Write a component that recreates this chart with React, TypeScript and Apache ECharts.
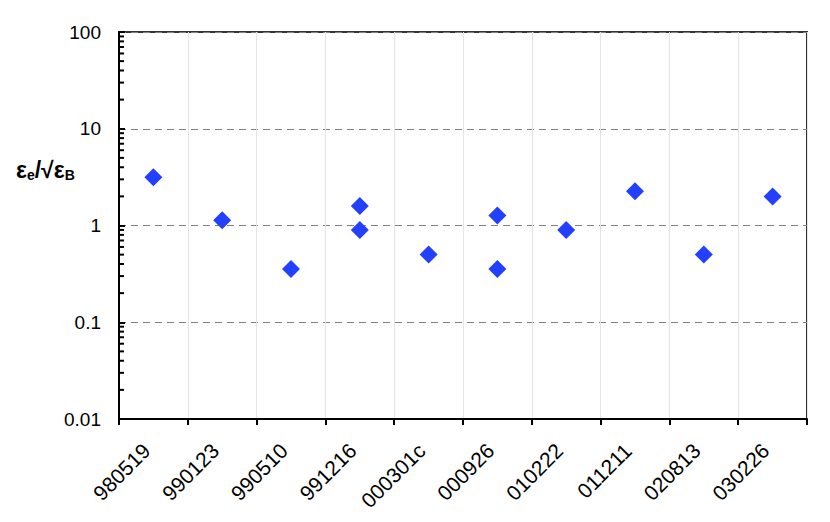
import React, { useEffect, useRef } from "react";
import * as echarts from "echarts";

const categories = ["980519", "990123", "990510", "991216", "000301c", "000926", "010222", "011211", "020813", "030226"];
const valuesA: (number | string)[] = [3.15, 1.13, 0.355, 1.59, 0.5, 1.27, 0.9, 2.26, 0.5, 2.0];
const valuesB: (number | string)[] = ["-", "-", "-", 0.9, "-", 0.355, "-", "-", "-", "-"];
const yTickLabels = ["0.01", "0.1", "1", "10", "100"];
const minorTickValues = [
  0.02, 0.03, 0.04, 0.05, 0.06, 0.07, 0.08, 0.09,
  0.2, 0.3, 0.4, 0.5, 0.6, 0.7, 0.8, 0.9,
  2, 3, 4, 5, 6, 7, 8, 9,
  20, 30, 40, 50, 60, 70, 80, 90,
];

const FONT = "'Liberation Sans', Arial, Helvetica, sans-serif";
const BLUE = "#2340ff";

export default function App() {
  const ref = useRef<HTMLDivElement>(null);
  useEffect(() => {
    if (!ref.current) return;
    const chart = echarts.init(ref.current, undefined, { renderer: "svg" });
    chart.setOption({
      animation: false,
      backgroundColor: "#ffffff",
      textStyle: { fontFamily: FONT },
      grid: {
        left: 119,
        right: 23,
        top: 32,
        bottom: 103,
        show: true,
        borderColor: "#333333",
        borderWidth: 2,
        backgroundColor: "transparent",
      },
      xAxis: {
        type: "category",
        data: categories,
        boundaryGap: true,
        axisLine: { show: true, lineStyle: { color: "#000", width: 2 } },
        axisTick: { show: true, inside: false, length: 6, lineStyle: { color: "#000", width: 2 } },
        axisLabel: {
          rotate: 45,
          fontSize: 21,
          color: "#000",
          fontFamily: FONT,
          margin: 21,
          padding: [0, 10, 0, 0],
          interval: 0,
        },
        splitLine: { show: true, lineStyle: { color: "#e4e4e4", width: 1 } },
      },
      yAxis: {
        type: "log",
        logBase: 10,
        min: 0.01,
        max: 100,
        axisLine: { show: true, lineStyle: { color: "#000", width: 2 } },
        axisTick: { show: true, inside: true, length: 6, lineStyle: { color: "#000", width: 2 } },
        axisLabel: {
          fontSize: 19,
          color: "#000",
          fontFamily: FONT,
          margin: 18,
          formatter: (v: number) => yTickLabels[Math.round(Math.log10(v)) + 2] ?? String(v),
        },
        splitLine: { show: true, lineStyle: { color: "#808080", width: 1, type: [7, 5] } },
      },
      series: [
        {
          type: "custom",
          silent: true,
          z: 5,
          data: minorTickValues.map((v) => [0, v]),
          encode: { x: 0, y: 1 },
          renderItem: (params: any, api: any) => {
            const y = api.coord([0, api.value(1)])[1];
            const x = params.coordSys.x;
            return {
              type: "line",
              shape: { x1: x, y1: y, x2: x + 5, y2: y },
              style: { stroke: "#000", lineWidth: 2 },
            };
          },
        },
        {
          type: "scatter",
          symbol: "diamond",
          symbolSize: 18,
          itemStyle: { color: BLUE, opacity: 1 },
          data: valuesA,
          z: 10,
        },
        {
          type: "scatter",
          symbol: "diamond",
          symbolSize: 18,
          itemStyle: { color: BLUE, opacity: 1 },
          data: valuesB,
          z: 10,
        },
      ],
      graphic: [
        {
          type: "text",
          left: 16,
          top: 158,
          style: {
            text: "{m|ε}{s|e}{m|/√ε}{s|B}",
            fontFamily: FONT,
            fill: "#000",
            rich: {
              m: { fontSize: 23, fontWeight: "bold", fontFamily: FONT, lineHeight: 24, verticalAlign: "middle" },
              s: { fontSize: 14, fontWeight: "bold", fontFamily: FONT, lineHeight: 14, verticalAlign: "bottom" },
            },
          },
        },
      ],
    });
    return () => chart.dispose();
  }, []);
  return <div ref={ref} style={{ position: "fixed", left: 0, top: 0, width: 830, height: 522 }} />;
}
